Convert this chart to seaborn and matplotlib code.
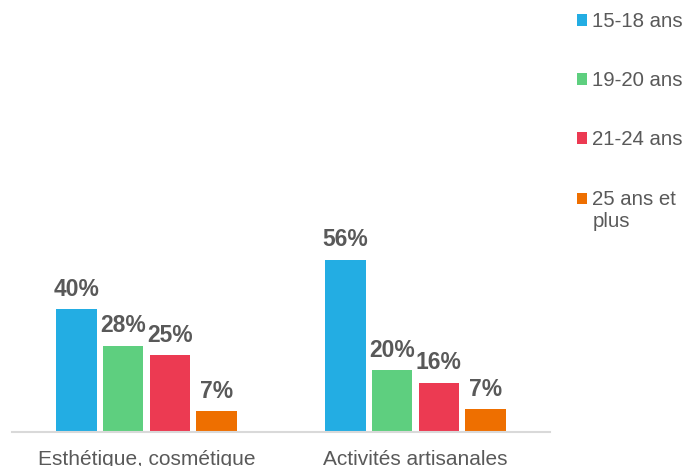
import matplotlib
matplotlib.use("Agg")
import matplotlib.pyplot as plt
import seaborn as sns
import pandas as pd
from matplotlib.patches import Rectangle
from matplotlib.legend_handler import HandlerPatch

categories = ["Esthétique, cosmétique", "Activités artisanales"]
age_groups = ["15-18 ans", "19-20 ans", "21-24 ans", "25 ans et\nplus"]
pct_15_18 = [40, 56]
pct_19_20 = [28, 20]
pct_21_24 = [25, 16]
pct_25_plus = [6.6, 7.4]
colors = ["#23ADE3", "#5ECF7F", "#EC3A52", "#EE6F00"]

rows = []
for age, vals in zip(age_groups, [pct_15_18, pct_19_20, pct_21_24, pct_25_plus]):
    for cat, v in zip(categories, vals):
        rows.append({"domaine": cat, "age": age, "pct": v})
df = pd.DataFrame(rows)

sns.set_theme(style="white")
plt.rcParams["font.family"] = ["Liberation Sans", "DejaVu Sans"]
TXT = "#595959"

fig = plt.figure(figsize=(6.84, 4.66), dpi=100)
ax = fig.add_axes([12/684, 1 - 431.7/466, (550-12)/684, (431.7-247.5)/466])

sns.barplot(data=df, x="domaine", y="pct", hue="age", order=categories,
            hue_order=age_groups, palette=colors, width=0.694, gap=0.14,
            ax=ax, saturation=1, edgecolor="none", linewidth=0, errorbar=None)

for c in ax.containers:
    ax.bar_label(c, fmt=lambda v: f"{v:.0f}%", padding=6, fontsize=16.5,
                 fontweight="bold", color=TXT)

ax.set_xlim(-0.5, 1.5)
ax.set_ylim(0, 60)
ax.set_xlabel("")
ax.set_ylabel("")
ax.set_yticks([])
for s in ["top", "right", "left"]:
    ax.spines[s].set_visible(False)
ax.spines["bottom"].set_color("#D9D9D9")
ax.spines["bottom"].set_linewidth(1.5)
ax.tick_params(axis="x", length=0, pad=13.5, labelsize=15, labelcolor=TXT)


class FirstLineHandler(HandlerPatch):
    def __init__(self, shift):
        super().__init__()
        self.shift = shift

    def create_artists(self, legend, orig_handle, xdescent, ydescent,
                       width, height, fontsize, trans):
        p = Rectangle((-xdescent, -ydescent + self.shift), width, height,
                      facecolor=orig_handle.get_facecolor(), edgecolor="none",
                      transform=trans)
        return [p]


handles, labels = ax.get_legend_handles_labels()
ax.get_legend().remove()
leg = fig.legend(handles, labels, loc="upper left",
                 bbox_to_anchor=(577/684, 1 - 12/466), frameon=False,
                 fontsize=14.7, handlelength=0.5, handleheight=0.5,
                 handletextpad=0.25, labelspacing=1.97, borderpad=0,
                 borderaxespad=0,
                 handler_map={handles[3]: FirstLineHandler(8.6)})
for t in leg.get_texts():
    t.set_color(TXT)

fig.savefig("out.png", dpi=100)
